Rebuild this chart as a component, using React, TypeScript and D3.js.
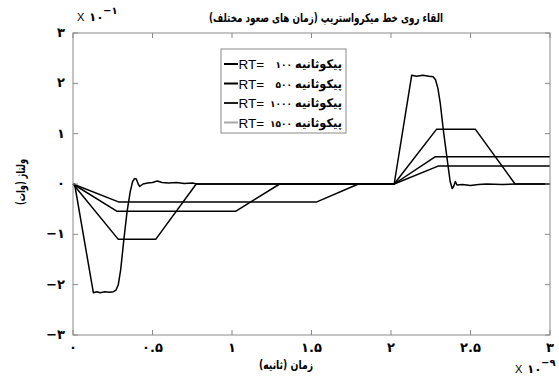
import React from 'react';
import * as d3 from 'd3';

// time in units of 1e-9 s, voltage in units of 1e-1
const seriesNames = ['۱۰۰', '۵۰۰', '۱۰۰۰', '۱۵۰۰'];
const legendColors = ['#000', '#000', '#1e1e1e', '#a8a8a8'];

const rt100: [number, number][] = [
  [0, 0], [0.01, 0], [0.128, -2.16], [0.15, -2.14], [0.17, -2.16], [0.2, -2.14], [0.23, -2.15],
  [0.255, -2.14], [0.27, -2.11], [0.285, -2.0], [0.3, -1.7], [0.32, -1.1], [0.34, -0.55],
  [0.36, -0.15], [0.375, 0.05], [0.388, 0.11], [0.398, 0.1], [0.41, 0.0], [0.42, -0.05],
  [0.44, 0.0], [0.47, 0.02], [0.5, 0.03], [0.53, 0.06], [0.56, 0.03], [0.6, 0.02], [0.65, 0.03],
  [0.7, 0.01], [0.75, 0.02], [0.78, 0], [2.02, 0], [2.13, 2.16], [2.16, 2.14], [2.2, 2.16],
  [2.24, 2.14], [2.265, 2.13], [2.28, 2.07], [2.295, 1.9], [2.31, 1.6], [2.33, 1.05],
  [2.355, 0.45], [2.372, 0.05], [2.385, -0.09], [2.395, -0.04], [2.405, 0.05], [2.415, -0.02],
  [2.45, -0.01], [2.5, -0.03], [2.55, -0.01], [2.6, 0.0], [2.7, -0.01], [2.8, 0], [3, 0],
];
const rt500: [number, number][] = [
  [0, 0], [0.285, -1.1], [0.52, -1.1], [0.775, 0], [2.02, 0], [2.287, 1.09], [2.53, 1.09], [2.78, 0], [3, 0],
];
const rt1000: [number, number][] = [
  [0, 0], [0.275, -0.54], [1.025, -0.54], [1.3, 0], [2.02, 0], [2.277, 0.54], [3, 0.54],
];
const rt1500: [number, number][] = [
  [0, 0], [0.29, -0.36], [1.53, -0.36], [1.795, 0], [2.02, 0], [2.3, 0.36], [3, 0.36],
];
const series = [rt100, rt500, rt1000, rt1500];

const xTicks = [0, 0.5, 1, 1.5, 2, 2.5, 3];
const yTicks = [-3, -2, -1, 0, 1, 2, 3];

const title = 'القاء روی خط میکرواستریپ (زمان های صعود مختلف)';
const xLabel = 'زمان (ثانیه)';
const yLabel = 'ولتاژ (وات)';
const unitWord = 'پیکوثانیه';

const fa = (v: number) =>
  String(v).replace(/-/g, '−').replace(/[0-9]/g, (c) => '۰۱۲۳۴۵۶۷۸۹'[+c]);

const W = 559;
const H = 376;
const FONT = 'DejaVu Sans';

export default function App() {
  const x = d3.scaleLinear().domain([0, 3]).range([73, 550]);
  const y = d3.scaleLinear().domain([-3, 3]).range([335, 33]);
  const line = d3.line<[number, number]>().x((d) => x(d[0])).y((d) => y(d[1]));
  const [x0, x1] = x.range();
  const [y0, y1] = y.range();
  const tk = 5;

  return (
    <div style={{ position: 'absolute', left: 0, top: 0 }}>
      <svg width={W} height={H} style={{ display: 'block', background: '#fff' }}>
        {/* curves */}
        {series.map((s, i) => (
          <path key={i} d={line(s) || ''} fill="none" stroke="#000" strokeWidth={1.5} strokeLinejoin="round" />
        ))}

        {/* axes box + ticks */}
        <rect x={x0} y={y1} width={x1 - x0} height={y0 - y1} fill="none" stroke="#8a8a8a" strokeWidth={1} />
        {xTicks.map((t) => (
          <g key={'x' + t}>
            <line x1={x(t)} x2={x(t)} y1={y0} y2={y0 - tk} stroke="#8a8a8a" />
            <line x1={x(t)} x2={x(t)} y1={y1} y2={y1 + tk} stroke="#8a8a8a" />
            <text x={x(t)} y={y0 + 17} textAnchor="middle" fontFamily={FONT} fontWeight="bold" fontSize={13}>
              {fa(t)}
            </text>
          </g>
        ))}
        {yTicks.map((t) => (
          <g key={'y' + t}>
            <line x1={x0} x2={x0 + tk} y1={y(t)} y2={y(t)} stroke="#8a8a8a" />
            <line x1={x1} x2={x1 - tk} y1={y(t)} y2={y(t)} stroke="#8a8a8a" />
            <text x={x0 - 8} y={y(t) + 4} textAnchor="end" fontFamily={FONT} fontWeight="bold" fontSize={13}>
              {fa(t)}
            </text>
          </g>
        ))}

        {/* title and labels */}
        <text x={326} y={22} textAnchor="middle" fontFamily={FONT} fontWeight="bold" fontSize={12}
          direction="rtl" textLength={234} lengthAdjust="spacingAndGlyphs">
          {title}
        </text>
        <text x={286} y={369} textAnchor="middle" fontFamily={FONT} fontWeight="bold" fontSize={12}
          direction="rtl" textLength={54} lengthAdjust="spacingAndGlyphs">
          {xLabel}
        </text>
        <text
          transform={`translate(25,182) rotate(-90)`}
          textAnchor="middle"
          fontFamily={FONT}
          fontWeight="bold"
          fontSize={12}
          direction="rtl"
          textLength={46}
          lengthAdjust="spacingAndGlyphs"
        >
          {yLabel}
        </text>

        {/* exponent labels */}
        <g fontFamily={FONT}>
          <text x={77} y={21} fontSize={11} fontFamily="Liberation Sans">X</text>
          <text x={89} y={21} fontSize={12} fontWeight="bold">{fa(10)}</text>
          <text x={103} y={14} fontSize={10} fontWeight="bold">{fa(-1)}</text>
          <text x={515} y={373} fontSize={11} fontFamily="Liberation Sans">X</text>
          <text x={527} y={373} fontSize={12} fontWeight="bold">{fa(10)}</text>
          <text x={541} y={366} fontSize={10} fontWeight="bold">{fa(-9)}</text>
        </g>

        {/* legend */}
        <rect x={221} y={49} width={125} height={84} fill="#fff" stroke="#8a8a8a" />
        {seriesNames.map((n, i) => {
          const ly = 64 + i * 19.5;
          return (
            <g key={n}>
              <line x1={224} x2={238} y1={ly} y2={ly} stroke={legendColors[i]} strokeWidth={2} />
              <text x={238.5} y={ly + 5} fontFamily="Liberation Sans" fontSize={13.5}>RT=</text>
              <text x={292} y={ly + 4} textAnchor="end" fontFamily={FONT} fontWeight="bold" fontSize={9}>{n}</text>
              <text x={342} y={ly + 4} textAnchor="end" fontFamily={FONT} fontWeight="bold" fontSize={12}
                textLength={47} lengthAdjust="spacingAndGlyphs">
                {unitWord}
              </text>
            </g>
          );
        })}
      </svg>
    </div>
  );
}
